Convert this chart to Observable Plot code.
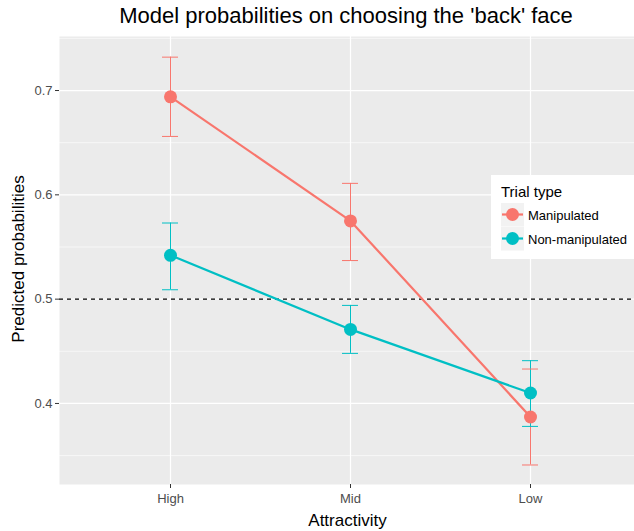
<!DOCTYPE html>
<html>
<head>
<meta charset="utf-8">
<script src="https://cdn.jsdelivr.net/npm/d3@7"></script>
<script src="https://cdn.jsdelivr.net/npm/@observablehq/plot@0.6"></script>
<style>
  body { margin: 0; background: #fff; }
  svg { font-family: "Liberation Sans", Arial, sans-serif; }
</style>
</head>
<body>
<div id="chart"></div>
<script>
const categories = ["High", "Mid", "Low"];
const seriesNames = ["Manipulated", "Non-manipulated"];
const colors = ["#F8766D", "#00BFC4"];
const manipulated = [0.694, 0.575, 0.387];
const manipulatedLower = [0.656, 0.537, 0.341];
const manipulatedUpper = [0.732, 0.611, 0.433];
const nonManipulated = [0.542, 0.471, 0.410];
const nonManipulatedLower = [0.509, 0.448, 0.378];
const nonManipulatedUpper = [0.573, 0.494, 0.441];
const yTicks = [0.4, 0.5, 0.6, 0.7];
const yMinorTicks = [0.35, 0.45, 0.55, 0.65, 0.75];
const reference = [0.5];

const data = [];
categories.forEach((c, i) => {
  data.push({cat: c, type: seriesNames[0], p: manipulated[i], lo: manipulatedLower[i], hi: manipulatedUpper[i]});
  data.push({cat: c, type: seriesNames[1], p: nonManipulated[i], lo: nonManipulatedLower[i], hi: nonManipulatedUpper[i]});
});

const W = 634, H = 531;
const plot = Plot.plot({
  width: W,
  height: H,
  marginLeft: 59,
  marginRight: 0,
  marginTop: 36,
  marginBottom: 47,
  style: {fontFamily: "Liberation Sans, Arial, sans-serif", fontSize: "13px", color: "#4d4d4d", background: "white"},
  x: {type: "band", domain: categories, range: [59, 640], paddingInner: 0.9116, paddingOuter: 0.561, align: 0.5, label: null},
  y: {domain: [0.3223, 0.7518], label: null},
  color: {domain: seriesNames, range: colors},
  marks: [
    Plot.frame({fill: "#ebebeb", stroke: null}),
    Plot.ruleY(yMinorTicks, {stroke: "white", strokeWidth: 0.6}),
    Plot.ruleY(yTicks, {stroke: "white", strokeWidth: 1.2}),
    Plot.ruleX(categories, {x: d => d, stroke: "white", strokeWidth: 1.2}),
    Plot.ruleY(reference, {stroke: "black", strokeWidth: 1.1, strokeDasharray: "4,4"}),
    Plot.ruleX(data, {x: "cat", y1: "lo", y2: "hi", stroke: "type", strokeWidth: 1}),
    Plot.tickY(data, {x: "cat", y: "lo", stroke: "type", strokeWidth: 1}),
    Plot.tickY(data, {x: "cat", y: "hi", stroke: "type", strokeWidth: 1}),
    Plot.line(data, {x: "cat", y: "p", z: "type", stroke: "type", strokeWidth: 2.2}),
    Plot.dot(data, {x: "cat", y: "p", fill: "type", r: 6.5, stroke: null}),
    Plot.axisY({ticks: yTicks, tickSize: 4, tickPadding: 3, tickFormat: d3.format(".1f"), stroke: "#333", fill: "#4d4d4d", fontSize: 13, label: null}),
    Plot.axisX({tickSize: 4, tickPadding: 5, stroke: "#333", fill: "#4d4d4d", fontSize: 13, label: null})
  ]
});

document.getElementById("chart").appendChild(plot);
const svg = d3.select(plot);

// Title and axis titles
svg.append("text").attr("x", 346).attr("y", 23).attr("text-anchor", "middle")
  .attr("font-size", 22).attr("fill", "black").text("Model probabilities on choosing the 'back' face");
svg.append("text").attr("x", 347.5).attr("y", 525.5).attr("text-anchor", "middle")
  .attr("font-size", 17).attr("fill", "black").text("Attractivity");
svg.append("text").attr("transform", "translate(24,259) rotate(-90)").attr("text-anchor", "middle")
  .attr("font-size", 17).attr("fill", "black").text("Predicted probabilities");

// Legend (inside panel, right)
const lg = svg.append("g").attr("text-anchor", "start");
lg.append("rect").attr("x", 491).attr("y", 175).attr("width", 143).attr("height", 84).attr("fill", "white");
lg.append("text").attr("x", 501).attr("y", 196.5).attr("font-size", 15).attr("fill", "black").text("Trial type");
seriesNames.forEach((name, i) => {
  const y0 = 203 + i * 24;
  lg.append("rect").attr("x", 501).attr("y", y0).attr("width", 23).attr("height", 23.5).attr("fill", "#f2f2f2");
  lg.append("line").attr("x1", 502).attr("x2", 523).attr("y1", y0 + 11.5).attr("y2", y0 + 11.5)
    .attr("stroke", colors[i]).attr("stroke-width", 2.2);
  lg.append("circle").attr("cx", 512.5).attr("cy", y0 + 11.5).attr("r", 6.5).attr("fill", colors[i]);
  lg.append("text").attr("x", 528).attr("y", y0 + 17).attr("font-size", 13).attr("fill", "black").text(name);
});
</script>
</body>
</html>
